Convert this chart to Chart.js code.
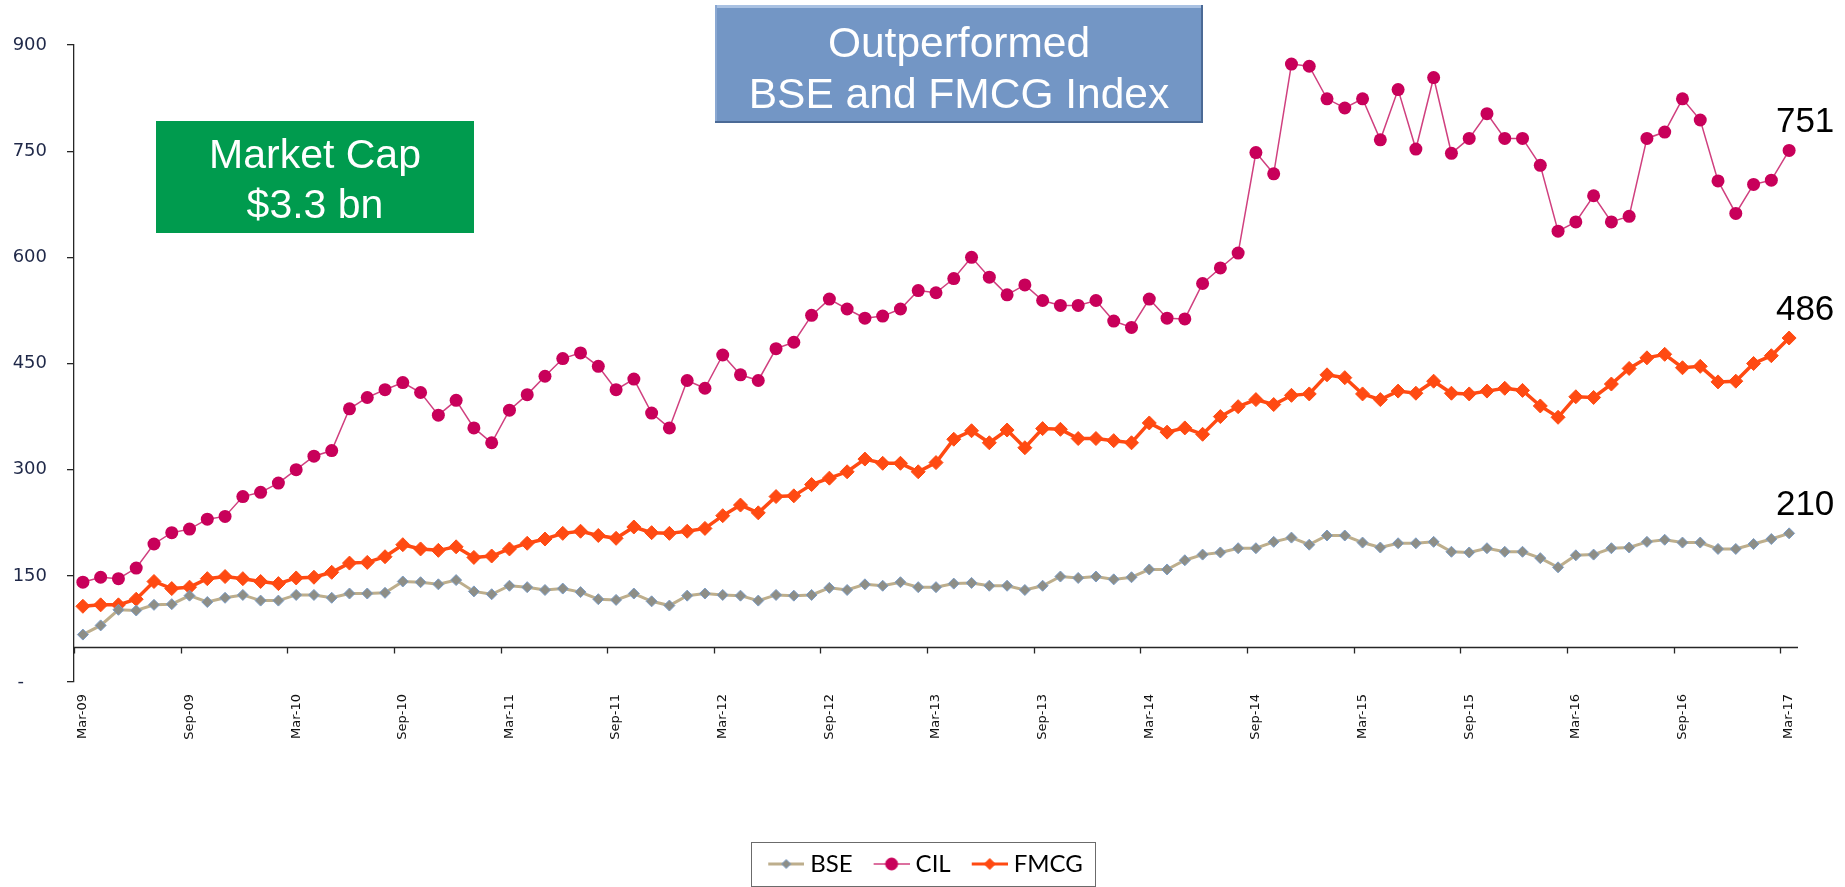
<!DOCTYPE html>
<html>
<head>
<meta charset="utf-8">
<script src="https://cdn.jsdelivr.net/npm/chart.js@4.4.1/dist/chart.umd.min.js"></script>
<style>
  html, body { margin: 0; padding: 0; background: #fff; }
  #wrap { width: 1845px; height: 887px; position: relative; }
</style>
</head>
<body>
<div id="wrap"><canvas id="perfChart" width="1845" height="887"></canvas></div>
<script>
const categories = [
  'Mar-09','Apr-09','May-09','Jun-09','Jul-09','Aug-09','Sep-09','Oct-09','Nov-09','Dec-09',
  'Jan-10','Feb-10','Mar-10','Apr-10','May-10','Jun-10','Jul-10','Aug-10','Sep-10','Oct-10','Nov-10','Dec-10',
  'Jan-11','Feb-11','Mar-11','Apr-11','May-11','Jun-11','Jul-11','Aug-11','Sep-11','Oct-11','Nov-11','Dec-11',
  'Jan-12','Feb-12','Mar-12','Apr-12','May-12','Jun-12','Jul-12','Aug-12','Sep-12','Oct-12','Nov-12','Dec-12',
  'Jan-13','Feb-13','Mar-13','Apr-13','May-13','Jun-13','Jul-13','Aug-13','Sep-13','Oct-13','Nov-13','Dec-13',
  'Jan-14','Feb-14','Mar-14','Apr-14','May-14','Jun-14','Jul-14','Aug-14','Sep-14','Oct-14','Nov-14','Dec-14',
  'Jan-15','Feb-15','Mar-15','Apr-15','May-15','Jun-15','Jul-15','Aug-15','Sep-15','Oct-15','Nov-15','Dec-15',
  'Jan-16','Feb-16','Mar-16','Apr-16','May-16','Jun-16','Jul-16','Aug-16','Sep-16','Oct-16','Nov-16','Dec-16',
  'Jan-17','Feb-17','Mar-17'
];

const bseValues = [
  67, 80, 102, 101, 109, 110, 122, 113, 119, 123, 115, 115, 123, 123, 119, 125,
  125, 126, 142, 141, 138, 144, 128, 124, 136, 134, 130, 132, 127, 117, 116, 125, 114,
  108, 122, 125, 123, 122, 115, 123, 122, 123, 133, 130, 138, 136, 141, 134, 134,
  139, 140, 136, 136, 130, 136, 149, 147, 149, 145, 148, 159, 159, 172, 180, 183,
  189, 189, 198, 204, 194, 207, 207, 197, 190, 196, 196, 198, 184, 183, 189, 184,
  184, 175, 162, 179, 180, 189, 190, 198, 201, 197, 197, 188, 188, 195, 202, 210
];

const cilValues = [
  141, 148, 146, 161, 195, 211, 216, 230, 234, 262, 268, 281, 300, 319, 327, 386,
  402, 413, 423, 409, 377, 398, 359, 338, 384, 406, 432, 457, 465, 446, 413, 428, 380,
  359, 426, 415, 462, 434, 426, 471, 480, 518, 541, 527, 514, 517, 527, 553, 550,
  570, 600, 572, 547, 561, 539, 532, 532, 539, 510, 501, 541, 514, 513, 563, 585,
  606, 748, 718, 873, 870, 824, 811, 824, 766, 837, 753, 854, 747, 768, 803, 768,
  768, 730, 637, 650, 687, 650, 658, 768, 777, 824, 794, 708, 662, 703, 709, 751
];

const fmcgValues = [
  107, 109, 109, 117, 142, 132, 134, 146, 149, 146, 142, 139, 147, 148, 155, 168,
  169, 177, 194, 188, 186, 191, 176, 178, 188, 196, 202, 210, 213, 207, 203, 219, 211,
  210, 213, 217, 235, 250, 239, 262, 263, 279, 288, 297, 315, 309, 309, 297, 310,
  343, 355, 338, 356, 331, 358, 357, 344, 344, 341, 338, 366, 353, 359, 350, 375,
  389, 399, 392, 405, 407, 434, 430, 407, 399, 411, 408, 425, 408, 407, 411, 415,
  412, 390, 374, 403, 402, 421, 443, 458, 463, 444, 446, 424, 425, 450, 461, 486
];

const seriesNames = ['BSE', 'CIL', 'FMCG'];
const yTicks = [0, 150, 300, 450, 600, 750, 900];
const axisCross = 49;          // value where the category axis crosses
const labelEvery = 6;          // one label every six months
const boxMarketCap = ['Market Cap', '$3.3 bn'];
const boxOutperformed = ['Outperformed', 'BSE and FMCG Index'];

// legend icon: short line with the marker in the middle
function makeLegendIcon(lineColor, lineWidth, marker, fill, stroke, r) {
  const c = document.createElement('canvas');
  c.width = 48; c.height = 20;
  const g = c.getContext('2d');
  g.strokeStyle = lineColor;
  g.lineWidth = lineWidth;
  g.beginPath(); g.moveTo(12, 10); g.lineTo(48, 10); g.stroke();
  g.fillStyle = fill;
  g.strokeStyle = stroke;
  g.lineWidth = 1;
  g.beginPath();
  if (marker === 'circle') {
    g.arc(30, 10, r, 0, Math.PI * 2);
  } else {
    g.moveTo(30, 10 - r); g.lineTo(30 + r, 10); g.lineTo(30, 10 + r); g.lineTo(30 - r, 10); g.closePath();
  }
  g.fill(); g.stroke();
  return c;
}

const legendIcons = [
  makeLegendIcon('#BDAE8C', 3, 'diamond', '#8E8E86', '#7A9CC6', 4.5),
  makeLegendIcon('#D0407F', 1.5, 'circle', '#C8005A', '#C8005A', 6),
  makeLegendIcon('#FF4A12', 3, 'diamond', '#FF4A12', '#FF4A12', 5.5)
];

function drawBox(ctx, x, y, w, h, lines, font, fill, bevel) {
  ctx.save();
  ctx.fillStyle = fill;
  ctx.fillRect(x, y, w, h);
  if (bevel) {
    ctx.fillStyle = '#A9C1E2';
    ctx.fillRect(x, y, w, 3);
    ctx.fillStyle = '#8AA8D2';
    ctx.fillRect(x, y, 2, h);
    ctx.fillStyle = '#4B6A96';
    ctx.fillRect(x, y + h - 2, w, 2);
    ctx.fillRect(x + w - 2, y, 2, h);
  }
  ctx.fillStyle = '#ffffff';
  ctx.font = font.size + 'px "Liberation Sans", Arial, sans-serif';
  ctx.textAlign = 'center';
  ctx.textBaseline = 'alphabetic';
  lines.forEach((t, i) => ctx.fillText(t, x + w / 2, font.base + i * font.step));
  ctx.restore();
}

const overlayPlugin = {
  id: 'overlay',
  beforeDatasetsDraw(chart) {
    const {ctx, chartArea, scales: {x, y}} = chart;
    const axisY = Math.round(y.getPixelForValue(axisCross)) + 0.5;
    const half = (x.getPixelForValue(1) - x.getPixelForValue(0)) / 2;
    ctx.save();
    ctx.strokeStyle = '#262626';
    ctx.lineWidth = 1.3;
    ctx.beginPath();
    ctx.moveTo(chartArea.left, axisY);
    ctx.lineTo(chartArea.right, axisY);
    for (let i = 0; i < categories.length; i += labelEvery) {
      const px = Math.round(x.getPixelForValue(i) - half) + 0.5;
      ctx.moveTo(px, axisY);
      ctx.lineTo(px, axisY + 6);
    }
    ctx.stroke();
    ctx.restore();
  },
  afterDraw(chart) {
    const {ctx} = chart;
    drawBox(ctx, 715, 5, 488, 118, boxOutperformed, {size: 42.5, base: 57, step: 51}, '#7396C5', true);
    drawBox(ctx, 156, 121, 318, 112, boxMarketCap, {size: 41, base: 168, step: 50}, '#009B4E', false);

    // value labels at the last point of each series
    ctx.save();
    ctx.fillStyle = '#000000';
    ctx.font = '35px "Liberation Sans", Arial, sans-serif';
    ctx.textAlign = 'center';
    ctx.textBaseline = 'middle';
    chart.data.datasets.forEach((ds, i) => {
      const meta = chart.getDatasetMeta(i);
      const pt = meta.data[meta.data.length - 1];
      ctx.fillText(String(ds.data[ds.data.length - 1]), pt.x + 16, pt.y - 28);
    });
    ctx.restore();

    // frame round the legend
    const hb = chart.legend.legendHitBoxes;
    if (hb && hb.length) {
      const left = Math.min(...hb.map(b => b.left)) - 11;
      const right = Math.max(...hb.map(b => b.left + b.width)) + 12;
      const top = hb[0].top - 10;
      const bottom = hb[0].top + hb[0].height + 10;
      ctx.save();
      ctx.strokeStyle = '#6b6b6b';
      ctx.lineWidth = 1;
      ctx.strokeRect(Math.round(left) + 0.5, Math.round(top) + 0.5, Math.round(right - left), Math.round(bottom - top));
      ctx.restore();
    }
  }
};

Chart.defaults.font.family = '"DejaVu Sans", Verdana, sans-serif';

const perfChart = new Chart(document.getElementById('perfChart').getContext('2d'), {
  type: 'line',
  data: {
    labels: categories,
    datasets: [{
      label: seriesNames[0],
      data: bseValues,
      borderColor: '#BDAE8C',
      borderWidth: 3,
      pointStyle: 'rectRot',
      pointRadius: 5.5,
      pointBackgroundColor: '#8E8E86',
      pointBorderColor: '#7A9CC6',
      pointBorderWidth: 1
    }, {
      label: seriesNames[1],
      data: cilValues,
      borderColor: '#D0407F',
      borderWidth: 1.5,
      pointStyle: 'circle',
      pointRadius: 6.5,
      pointBackgroundColor: '#C8005A',
      pointBorderColor: '#C8005A',
      pointBorderWidth: 0
    }, {
      label: seriesNames[2],
      data: fmcgValues,
      borderColor: '#FF4A12',
      borderWidth: 3.5,
      pointStyle: 'rectRot',
      pointRadius: 7,
      pointBackgroundColor: '#FF4A12',
      pointBorderColor: '#FF4A12',
      pointBorderWidth: 1
    }]
  },
  options: {
    responsive: false,
    devicePixelRatio: 1,
    animation: false,
    events: [],
    layout: { padding: { top: 45, right: 0, bottom: 1, left: 0 } },
    scales: {
      x: {
        offset: true,
        grid: { display: false, drawTicks: false, offset: true },
        border: { display: false },
        ticks: {
          autoSkip: false,
          minRotation: 90,
          maxRotation: 90,
          padding: 12,
          color: '#111111',
          font: { size: 13 },
          callback: function(value, index) {
            return index % labelEvery === 0 ? this.getLabelForValue(value) : '';
          }
        },
        afterFit: function(scale) { scale.height = 155; }
      },
      y: {
        min: yTicks[0],
        max: yTicks[yTicks.length - 1],
        afterBuildTicks: function(scale) { scale.ticks = yTicks.map(v => ({value: v})); },
        grid: { display: true, drawOnChartArea: false, drawTicks: true, tickLength: 7, color: '#262626', lineWidth: 1.3 },
        border: { display: true, color: '#262626', width: 1.3 },
        ticks: {
          padding: 20,
          color: '#1F2848',
          font: { size: 18 },
          callback: function(v) { return v === 0 ? '-\u00A0\u00A0\u00A0\u00A0' : v; }
        },
        afterFit: function(scale) { scale.width = 74; }
      },
      // empty right-hand strip so the plot ends where the reference does
      yRight: {
        position: 'right',
        display: true,
        grid: { display: false, drawTicks: false },
        border: { display: false },
        ticks: { display: false },
        afterFit: function(scale) { scale.width = 47; }
      }
    },
    plugins: {
      tooltip: { enabled: false },
      legend: {
        display: true,
        position: 'bottom',
        labels: {
          usePointStyle: true,
          pointStyleWidth: 36,
          padding: 15,
          color: '#000000',
          font: { family: 'Lato, "Open Sans", sans-serif', size: 24 },
          generateLabels: function(chart) {
            return chart.data.datasets.map((ds, i) => ({
              text: ds.label,
              pointStyle: legendIcons[i],
              fillStyle: ds.borderColor,
              strokeStyle: ds.borderColor,
              lineWidth: 0,
              hidden: false,
              datasetIndex: i
            }));
          }
        }
      }
    }
  },
  plugins: [overlayPlugin]
});
</script>
</body>
</html>
